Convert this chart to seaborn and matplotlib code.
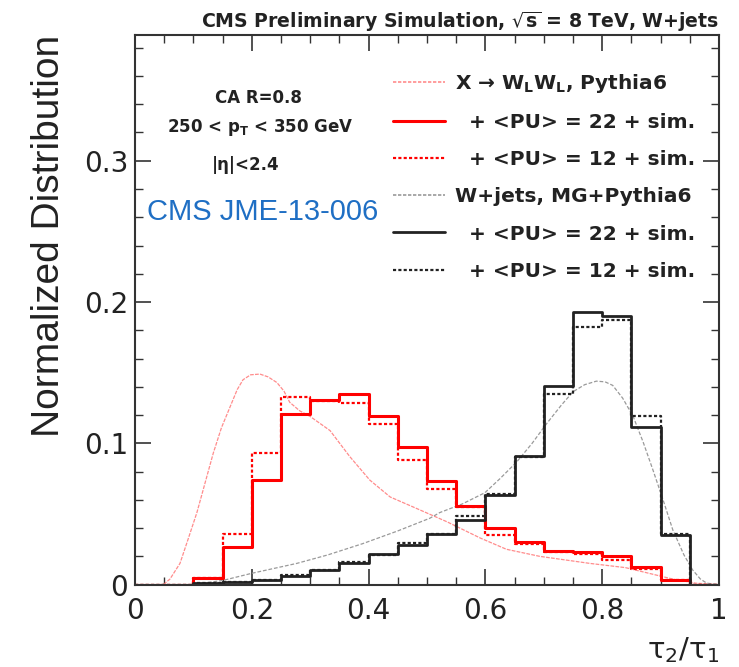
import numpy as np
import pandas as pd
import matplotlib
matplotlib.use("Agg")
import matplotlib.pyplot as plt
from matplotlib.lines import Line2D
from matplotlib.ticker import MultipleLocator, FixedLocator, FixedFormatter
import seaborn as sns

# ---------------- data ----------------
bin_edges = [round(0.05 * i, 2) for i in range(21)]

# Signal X -> WL WL, <PU>=22 + sim.
sig_pu22 = [0.0, 0.0, 0.0049, 0.0268, 0.074, 0.1205, 0.131, 0.135, 0.119, 0.0976,
            0.0733, 0.0556, 0.0398, 0.0304, 0.024, 0.0233, 0.0202, 0.0127, 0.0033, 0.0]
# Signal, <PU>=12 + sim.
sig_pu12 = [0.0, 0.0, 0.0045, 0.0358, 0.093, 0.133, 0.130, 0.1287, 0.1137, 0.088,
            0.068, 0.0547, 0.035, 0.029, 0.023, 0.0217, 0.0174, 0.011, 0.003, 0.0]
# W+jets, <PU>=22 + sim.
bkg_pu22 = [0.0, 0.0, 0.001, 0.002, 0.003, 0.006, 0.0105, 0.0155, 0.022, 0.028,
            0.0358, 0.046, 0.0634, 0.091, 0.1405, 0.193, 0.190, 0.1117, 0.035, 0.0]
# W+jets, <PU>=12 + sim.
bkg_pu12 = [0.0, 0.0, 0.001, 0.002, 0.003, 0.0065, 0.0105, 0.016, 0.021, 0.0294,
            0.036, 0.0485, 0.064, 0.090, 0.1347, 0.1825, 0.187, 0.119, 0.0358, 0.0]

# generator-level smooth curves
sig_curve_x = [0.0, 0.02, 0.043, 0.06, 0.077, 0.09, 0.106, 0.12, 0.134, 0.148, 0.163,
               0.175, 0.185, 0.198, 0.214, 0.228, 0.243, 0.255, 0.265, 0.282, 0.30,
               0.334, 0.368, 0.402, 0.437, 0.476, 0.534, 0.591, 0.636, 0.693, 0.779,
               0.84, 0.88, 0.92, 0.96, 1.0]
sig_curve_y = [0.0, 0.0, -0.002, 0.004, 0.015, 0.031, 0.051, 0.072, 0.093, 0.111, 0.126,
               0.138, 0.145, 0.1485, 0.149, 0.147, 0.143, 0.137, 0.129, 0.123, 0.119,
               0.109, 0.0905, 0.074, 0.062, 0.055, 0.0445, 0.033, 0.025, 0.020, 0.015,
               0.012, 0.008, 0.004, 0.001, 0.0]
bkg_curve_x = [0.0, 0.1, 0.151, 0.2, 0.277, 0.33, 0.39, 0.45, 0.505, 0.522, 0.56, 0.599,
               0.625, 0.654, 0.68, 0.705, 0.73, 0.75, 0.77, 0.79, 0.805, 0.818, 0.835,
               0.853, 0.87, 0.887, 0.905, 0.921, 0.94, 0.955, 0.968, 0.979, 1.0]
bkg_curve_y = [0.0, 0.0, 0.003, 0.008, 0.015, 0.021, 0.029, 0.038, 0.047, 0.051, 0.057,
               0.065, 0.075, 0.087, 0.100, 0.114, 0.127, 0.1365, 0.1415, 0.144, 0.1435,
               0.141, 0.132, 0.119, 0.101, 0.081, 0.059, 0.0386, 0.021, 0.0103, 0.004,
               0.001, 0.0]

x_major = [0, 0.2, 0.4, 0.6, 0.8, 1.0]
x_labels = ["0", "0.2", "0.4", "0.6", "0.8", "1"]
y_major = [0, 0.1, 0.2, 0.3]
y_labels = ["0", "0.1", "0.2", "0.3"]

legend_labels = ["X \u2192 W$_{\\mathbf{L}}$W$_{\\mathbf{L}}$, Pythia6",
                 "  + <PU> = 22 + sim.",
                 "  + <PU> = 12 + sim.",
                 "W+jets, MG+Pythia6",
                 "  + <PU> = 22 + sim.",
                 "  + <PU> = 12 + sim."]

# ---------------- style ----------------
sns.set_style("ticks")
plt.rcParams["font.family"] = ["DejaVu Sans"]
plt.rcParams["mathtext.fontset"] = "dejavusans"

W, H = 739, 667
fig = plt.figure(figsize=(W / 100, H / 100), dpi=100)
L, R, T, B = 135, 719, 35, 584.6
ax = fig.add_axes([L / W, 1 - B / H, (R - L) / W, (B - T) / H])

centers = [(bin_edges[i] + bin_edges[i + 1]) / 2 for i in range(len(bin_edges) - 1)]

RED = "#ff0000"
PINK = "#ff8c8c"
BLK = "#222222"
GREY = "#9a9a9a"

dot_style = (0, (1.4, 1.0))

# smooth curves
sns.lineplot(x=sig_curve_x, y=sig_curve_y, ax=ax, color=PINK, lw=0.9,
             linestyle=(0, (3, 1)), sort=False, estimator=None)
sns.lineplot(x=bkg_curve_x, y=bkg_curve_y, ax=ax, color=GREY, lw=0.9,
             linestyle=(0, (3, 1.5)), sort=False, estimator=None)

# histograms
hist_specs = [
    (sig_pu12, RED, 1.6, dot_style),
    (bkg_pu12, BLK, 1.6, dot_style),
    (sig_pu22, RED, 2.2, "-"),
    (bkg_pu22, BLK, 2.0, "-"),
]
for vals, col, lw, ls in hist_specs:
    df = pd.DataFrame({"tau21": centers, "w": vals})
    sns.histplot(data=df, x="tau21", weights="w", bins=bin_edges, element="step",
                 fill=False, color=col, linewidth=lw, linestyle=ls, ax=ax, stat="count")

ax.set_xlim(0, 1)
ax.set_ylim(0, 0.389)

# ticks
ax.xaxis.set_major_locator(FixedLocator(x_major))
ax.xaxis.set_major_formatter(FixedFormatter(x_labels))
ax.xaxis.set_minor_locator(MultipleLocator(0.05))
ax.yaxis.set_major_locator(FixedLocator(y_major))
ax.yaxis.set_major_formatter(FixedFormatter(y_labels))
ax.yaxis.set_minor_locator(MultipleLocator(0.02))
ax.tick_params(which="both", direction="in", top=True, right=True, color="#333333")
ax.tick_params(which="major", length=11.5, width=1.1, labelsize=20, colors="#222222")
ax.tick_params(which="minor", length=5.8, width=1.0)
ax.tick_params(axis="x", which="major", pad=9)
ax.tick_params(axis="y", which="major", pad=5)
for s in ax.spines.values():
    s.set_linewidth(1.5)
    s.set_color("#333333")

ax.set_ylabel("Normalized Distribution", fontsize=28, family="Liberation Sans",
              loc="top", labelpad=12, color="#222222")
ax.set_xlabel(r"$\mathrm{\tau}_2/\mathrm{\tau}_1$", fontsize=21, loc="right",
              labelpad=7, color="#222222")

# legend
handles = [
    Line2D([], [], color=PINK, lw=1.2, linestyle=(0, (2, 1))),
    Line2D([], [], color=RED, lw=2.2),
    Line2D([], [], color=RED, lw=1.6, linestyle=dot_style),
    Line2D([], [], color=GREY, lw=1.2, linestyle=(0, (2, 1))),
    Line2D([], [], color=BLK, lw=2.0),
    Line2D([], [], color=BLK, lw=1.6, linestyle=dot_style),
]
leg = ax.legend(handles, legend_labels, loc="upper left",
                bbox_to_anchor=(393 / W, 1 - 72 / H), bbox_transform=fig.transFigure,
                frameon=False, handlelength=2.6, handletextpad=0.5, labelspacing=0.9,
                borderpad=0, borderaxespad=0,
                prop={"family": "DejaVu Sans", "weight": "bold", "size": 14.5})
for t in leg.get_texts():
    t.set_color("#222222")

# title
fig.text(719 / W, 1 - 28 / H,
         r"CMS Preliminary Simulation, $\mathbf{\sqrt{s}}$ = 8 TeV, W+jets",
         ha="right", va="baseline", fontsize=13.6, fontweight="bold", color="#222222")

# annotations
fig.text(258 / W, 1 - 98 / H, "CA R=0.8", ha="center", va="center",
         fontsize=12, fontweight="bold", color="#222222")
fig.text(260 / W, 1 - 127 / H, r"250 < p$_{\mathbf{T}}$ < 350 GeV", ha="center",
         va="center", fontsize=12, fontweight="bold", color="#222222")
fig.text(246 / W, 1 - 165 / H, "|\u03b7|<2.4", ha="center", va="center",
         fontsize=12, fontweight="bold", color="#222222")
fig.text(147 / W, 1 - 212 / H, "CMS JME-13-006", ha="left", va="center",
         fontsize=21, family="Liberation Sans", color="#1f6fc4")

fig.savefig("out.png", dpi=100)
